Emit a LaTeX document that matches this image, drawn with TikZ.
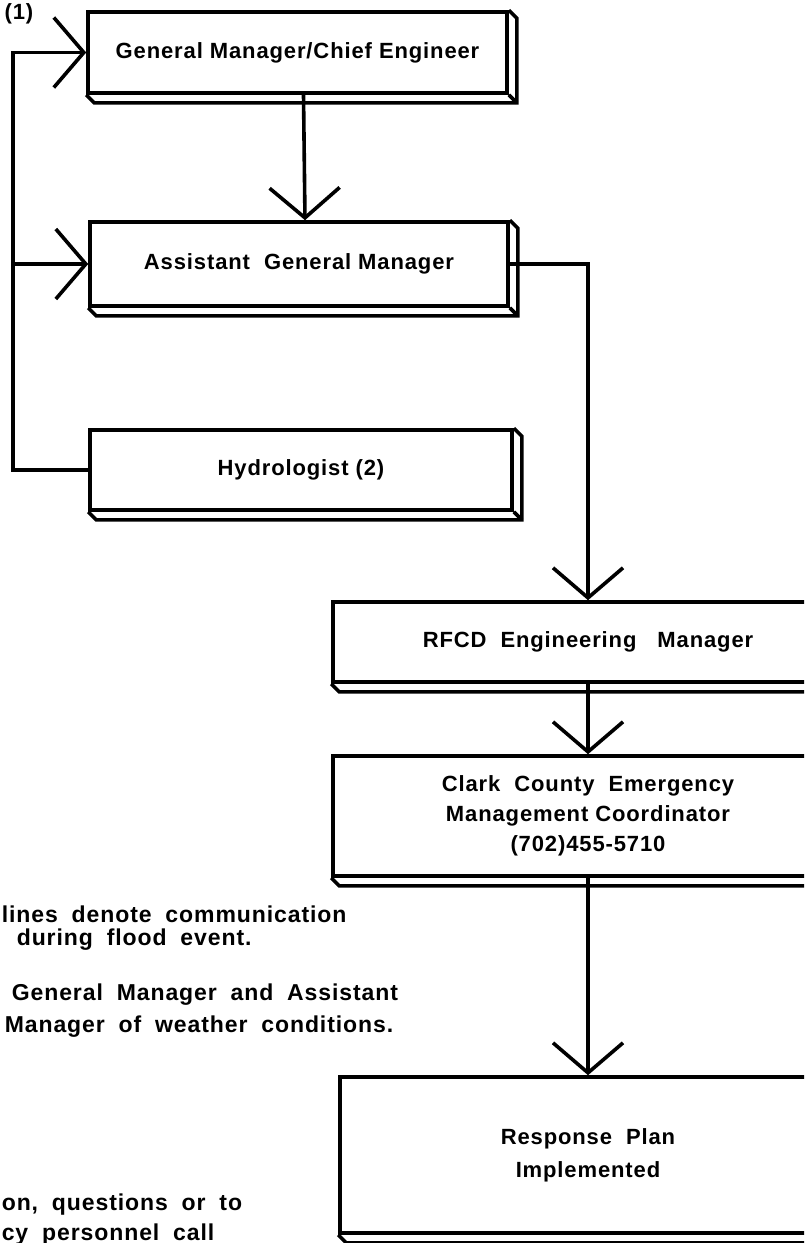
\documentclass[tikz,border=0pt]{standalone}
\usepackage{fontspec}
\setmainfont[LetterSpace=4]{Liberation Sans}
\usetikzlibrary{arrows.meta}

\newcommand{\slabdepth}[1]{%
\draw (#1.north east) -- ++(8,8) |- ([shift={(8,8)}]#1.south west) -- (#1.south west);
\draw (#1.south east) -- ++(8,8);}
\newcommand{\widespace}{\spaceskip 0.6em\relax}

\begin{document}
\begin{tikzpicture}[x=0.5pt, y=-0.5pt, line width=1.8pt, >={Straight Barb[length=15pt,width=35pt]}]

\useasboundingbox (0,0) rectangle (804,1243);
\clip (0,0) rectangle (804,1243);

\tikzstyle{every node} = [font=\bfseries\fontsize{11}{15}\selectfont, align=center]
\tikzstyle{slab} = [rectangle, draw, line width=1.8pt, fill=white, inner sep=0pt]
\tikzstyle{note} = [anchor=west, inner sep=0pt, align=left, font={\bfseries\fontsize{11.5}{15}\selectfont\widespace}]

\node[slab, minimum width=209.5pt, minimum height=40.5pt] (gm) at (297.5,52.5) {General Manager/Chief Engineer};
\node[slab, minimum width=209pt, minimum height=42pt] (agm) at (299,264) {Assistant \ General Manager};
\node[slab, minimum width=211pt, minimum height=40pt] (hyd) at (301,470) {Hydrologist (2)};

\node[slab, minimum width=255pt, minimum height=40pt] (rfcd) at (588,642) {RFCD \ Engineering \ \ Manager};
\node[slab, minimum width=255pt, minimum height=60pt] (clark) at (588,816) {Clark \ County \ Emergency\\Management Coordinator\\(702)455-5710};
\node[slab, minimum width=248pt, minimum height=78pt, font=\bfseries\fontsize{11}{16.5}\selectfont] (resp) at (588,1155) {Response \ Plan\\Implemented};

\slabdepth{gm}
\slabdepth{agm}
\slabdepth{hyd}
\slabdepth{rfcd}
\slabdepth{clark}
\slabdepth{resp}

\node (n1) at (19,14) {(1)};

\coordinate (lc) at (13,52.5);

\draw[->] ([xshift=3pt]gm.south) -- ([xshift=3pt]agm.north);
\draw[->] (hyd.west) -| (lc) -- (gm.west);
\draw[->] (lc |- agm.west) -- (agm.west);
\draw[->] (agm.east) -| (rfcd.north);
\draw[->] (rfcd.south) -- (clark.north);
\draw[->] (clark.south) -- (resp.north);

\node[note] (l1) at (0,914) {lines denote communication};
\node[note] (l2) at (15,940) {during flood event.};
\node[note] (l3) at (10,995) {General Manager and Assistant};
\node[note] (l4) at (3,1027) {Manager of weather conditions.};
\node[note] (l5) at (0,1205) {on, questions or to};
\node[note] (l6) at (0,1235) {cy personnel call};

\end{tikzpicture}
\end{document}
